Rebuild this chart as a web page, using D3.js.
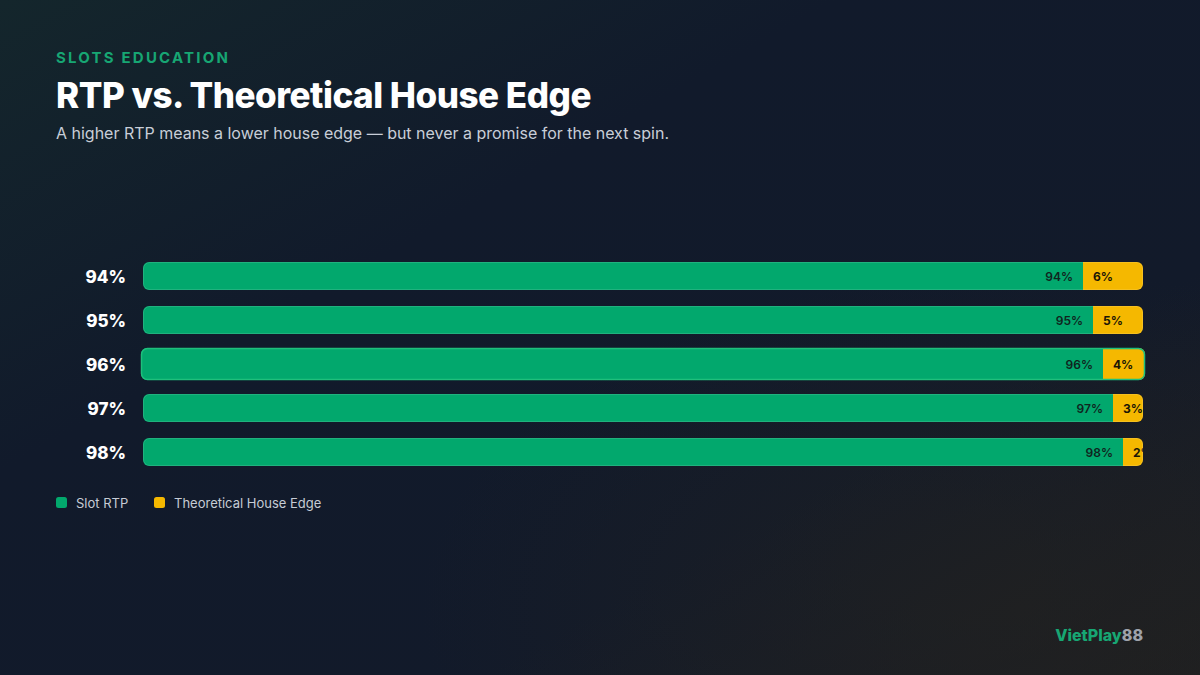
<!DOCTYPE html>
<html>
<head>
<meta charset="utf-8">
<script src="https://d3js.org/d3.v7.min.js"></script>
<style>
body { margin: 0; background: #111a2b; }
svg { display: block; font-family: Inter, "Noto Sans", sans-serif; }
</style>
</head>
<body>
<svg id="chart" width="1200" height="675"></svg>
<script>
// data
var categories = ['94%', '95%', '96%', '97%', '98%'];
var rtpValues = [94, 95, 96, 97, 98];
var edgeValues = [6, 5, 4, 3, 2];
var seriesNames = ['Slot RTP', 'Theoretical House Edge'];
var highlighted = '96%'; // this row was in hover state in the reference

var width = 1200, height = 675;
var green = '#02a86d', yellow = '#f5b800', labelDark = '#10241e';

var svg = d3.select('#chart');
var defs = svg.append('defs');

// background: dark navy, greenish top-left, greyish bottom-right
var bg = defs.append('linearGradient').attr('id', 'bg').attr('x1', 0).attr('y1', 0).attr('x2', 1).attr('y2', 1);
bg.append('stop').attr('offset', '0%').attr('stop-color', '#14262c');
bg.append('stop').attr('offset', '35%').attr('stop-color', '#111a2b');
bg.append('stop').attr('offset', '70%').attr('stop-color', '#121a2a');
bg.append('stop').attr('offset', '100%').attr('stop-color', '#1e1f22');
svg.append('rect').attr('width', width).attr('height', height).attr('fill', 'url(#bg)');

var glow = defs.append('radialGradient').attr('id', 'glow').attr('cx', 0.85).attr('cy', 0.9).attr('r', 0.5);
glow.append('stop').attr('offset', '0%').attr('stop-color', '#23221f').attr('stop-opacity', 0.6);
glow.append('stop').attr('offset', '100%').attr('stop-color', '#23221f').attr('stop-opacity', 0);
svg.append('rect').attr('width', width).attr('height', height).attr('fill', 'url(#glow)');

// header
svg.append('text').attr('x', 56).attr('y', 63).attr('fill', '#17a673')
  .style('font-size', '15px').style('font-weight', 700).style('letter-spacing', '2.2px')
  .text('SLOTS EDUCATION');
svg.append('text').attr('x', 56).attr('y', 108).attr('fill', '#ffffff')
  .style('font-size', '36px').style('font-weight', 800).style('letter-spacing', '-0.5px')
  .attr('textLength', 535).attr('lengthAdjust', 'spacingAndGlyphs')
  .text('RTP vs. Theoretical House Edge');
svg.append('text').attr('x', 56).attr('y', 139).attr('fill', '#c8ced8')
  .style('font-size', '16px')
  .attr('textLength', 613).attr('lengthAdjust', 'spacingAndGlyphs')
  .text('A higher RTP means a lower house edge \u2014 but never a promise for the next spin.');

// scales
var x = d3.scaleLinear().domain([0, 100]).range([143, 1143]);
var y = d3.scaleBand().domain(categories).range([262, 466]).paddingInner(16 / 44).paddingOuter(0);

// row labels
svg.append('g').selectAll('text').data(categories).join('text')
  .attr('x', 126).attr('y', function(d) { return y(d) + y.bandwidth() / 2 + 1; })
  .attr('text-anchor', 'end').attr('dominant-baseline', 'central')
  .attr('fill', '#ffffff').style('font-size', '17px').style('font-weight', 800)
  .text(function(d) { return d; });

// bars
var rows = categories.map(function(c, i) {
  return { cat: c, rtp: rtpValues[i], edge: edgeValues[i], hi: c === highlighted };
});

rows.forEach(function(r, i) {
  var grow = r.hi ? 2 : 0;
  r.x0 = x(0) - grow; r.x1 = x(100) + grow;
  r.top = y(r.cat) - grow; r.h = y.bandwidth() + grow * 2;
  defs.append('clipPath').attr('id', 'clip' + i)
    .append('rect').attr('x', r.x0).attr('y', r.top).attr('width', r.x1 - r.x0).attr('height', r.h).attr('rx', 6);
});

var rowG = svg.append('g').selectAll('g').data(rows).join('g');

rowG.each(function(r, i) {
  var g = d3.select(this);
  var inner = g.append('g').attr('clip-path', 'url(#clip' + i + ')');
  var split = x(r.rtp);
  inner.append('rect').attr('x', r.x0).attr('y', r.top).attr('width', split - r.x0).attr('height', r.h).attr('fill', green);
  inner.append('rect').attr('x', split).attr('y', r.top).attr('width', r.x1 - split).attr('height', r.h).attr('fill', yellow);
  inner.append('text').attr('x', split - 10).attr('y', r.top + r.h / 2)
    .attr('text-anchor', 'end').attr('dominant-baseline', 'central')
    .attr('fill', labelDark).style('font-size', '12px').style('font-weight', 600)
    .text(r.rtp + '%');
  inner.append('text').attr('x', split + 10).attr('y', r.top + r.h / 2)
    .attr('dominant-baseline', 'central')
    .attr('fill', '#1a1606').style('font-size', '12px').style('font-weight', 700)
    .text(r.edge + '%');
  // faint outline; highlighted row gets a green ring
  g.append('rect').attr('x', r.x0 + 0.5).attr('y', r.top + 0.5).attr('width', r.x1 - r.x0 - 1).attr('height', r.h - 1).attr('rx', 6)
    .attr('fill', 'none')
    .attr('stroke', r.hi ? '#1fbf7c' : 'rgba(255,255,255,0.12)')
    .attr('stroke-width', r.hi ? 1.5 : 1);
});

// legend
var legend = svg.append('g').attr('transform', 'translate(56,503)');
var legendX = [0, 98];
[green, yellow].forEach(function(c, i) {
  legend.append('rect').attr('x', legendX[i]).attr('y', -6).attr('width', 11).attr('height', 11).attr('rx', 2.5).attr('fill', c);
  legend.append('text').attr('x', legendX[i] + 20).attr('y', 0).attr('dominant-baseline', 'central')
    .attr('fill', '#c6ccd5').style('font-size', '13px').text(seriesNames[i]);
});

// watermark
var wm = svg.append('text').attr('x', 1143).attr('y', 641).attr('text-anchor', 'end')
  .style('font-size', '16px').style('font-weight', 800);
wm.append('tspan').attr('fill', '#17a673').text('VietPlay');
wm.append('tspan').attr('fill', '#9ea3ab').text('88');
</script>
</body>
</html>
